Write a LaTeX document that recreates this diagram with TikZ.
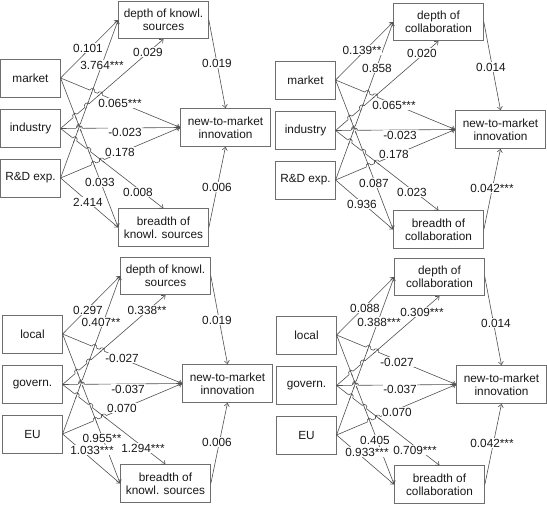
\documentclass[tikz,border=0pt]{standalone}
\usepackage{fontspec}
\setmainfont{Liberation Sans}
\usetikzlibrary{arrows.meta,calc}
\definecolor{boxgray}{RGB}{110,110,110}
\definecolor{linegray}{RGB}{80,80,80}
\definecolor{textc}{RGB}{25,25,25}
% #1,#2: line that is crossed; #3,#4: line that jumps over it
\newcommand\hop[4]{%
  \coordinate (X) at (intersection of #1--#2 and #3--#4);
  \coordinate (HA) at ($(X)!2.6pt!(#3)$);
  \coordinate (HB) at ($(X)!2.6pt!(#4)$);
  \draw[white, line width=1.8pt] (HA) -- (HB);
  \draw[hopline] ($(X)!3.6pt!(#1)$) -- ($(X)!3.6pt!(#2)$);
  \draw[hopline] (HA) .. controls ($(HA)!3.4pt!90:(HB)$) and ($(HB)!3.4pt!-90:(HA)$) .. (HB);
}
\newcommand\panelbase[5]{%
  \node[lbox] (a) at (30.5,78) {#1};
  \node[lbox] (b) at (30.5,128.5) {#2};
  \node[lbox] (c) at (30.5,178) {#3};
  \node[rbox] (d) at (163.5,20) {#4};
  \node[rbox] (e) at (163.5,227.5) {#5};
  \node[nbox] (n) at (225.5,127.5) {new-to-market\\innovation};
  \draw[conn] (a.east) -- (d.west);
  \draw[conn] (c.east) -- (d.west);
  \draw[conn] (b.east) -- (d.south);
  \draw[conn] (a.east) -- (n.west);
  \draw[conn] (b.east) -- (n.west);
  \draw[conn] (c.east) -- (n.west);
  \draw[conn] (a.east) -- (e.west);
  \draw[conn] (b.east) -- (e.north);
  \draw[conn] (c.east) -- (e.west);
  \draw[conn] (d.east) -- (n.north);
  \draw[conn] (e.east) -- (n.south);
  \hop{c.east}{d.west}{a.east}{n.west}
  \hop{b.east}{d.south}{a.east}{n.west}
  \hop{a.east}{e.west}{b.east}{d.south}
  \hop{a.east}{e.west}{b.east}{n.west}
  \hop{a.east}{e.west}{b.east}{e.north}
  \hop{a.east}{e.west}{c.east}{d.west}
  \hop{a.east}{e.west}{c.east}{n.west}
  \hop{c.east}{d.west}{b.east}{d.south}
  \hop{c.east}{d.west}{b.east}{n.west}
  \hop{c.east}{d.west}{b.east}{e.north}
  \hop{b.east}{e.north}{c.east}{n.west}
}
\begin{document}
\begin{tikzpicture}[x=1pt,y=-1pt,
  base/.style={draw=boxgray, line width=0.7pt, fill=white, inner sep=0pt,
    align=center, text=textc, font=\fontsize{11.8}{13.2}\selectfont},
  lbox/.style={base, minimum width=59.5pt, minimum height=38pt},
  rbox/.style={base, minimum width=90pt, minimum height=37.5pt},
  nbox/.style={base, minimum width=90pt, minimum height=38pt},
  hopline/.style={draw=linegray, line width=0.6pt},
  conn/.style={hopline, -{Straight Barb[length=3pt,width=5pt]}},
  lab/.style={fill=white, inner sep=0.6pt, text=textc,
    font=\fontsize{11.8}{13.2}\selectfont}]
\useasboundingbox (0,0) rectangle (547,505);
% panel 1
\begin{scope}[name prefix=p1-]
  \panelbase{market}{industry}{R\&D exp.}{depth of knowl.\\sources}{breadth of\\knowl. sources}
  \node[lab] at (88,48) {0.101};
  \node[lab] at (102,65) {3.764***};
  \node[lab] at (148,52) {0.029};
  \node[lab] at (120,103) {0.065***};
  \node[lab] at (125,132) {-0.023};
  \node[lab] at (120,152) {0.178};
  \node[lab] at (100,182) {0.033};
  \node[lab] at (138,192) {0.008};
  \node[lab] at (88,202) {2.414};
  \node[lab] at (217,63) {0.019};
  \node[lab] at (217,187) {0.006};
\end{scope}
% panel 2
\begin{scope}[shift={(275,2)}, name prefix=p2-]
  \panelbase{market}{industry}{R\&D exp.}{depth of\\collaboration}{breadth of\\collaboration}
  \node[lab] at (87,48) {0.139**};
  \node[lab] at (102,66) {0.858};
  \node[lab] at (147,51) {0.020};
  \node[lab] at (119,103) {0.065***};
  \node[lab] at (125,133) {-0.023};
  \node[lab] at (119,152) {0.178};
  \node[lab] at (99,181) {0.087};
  \node[lab] at (137,190) {0.023};
  \node[lab] at (87,202) {0.936};
  \node[lab] at (216,65) {0.014};
  \node[lab] at (217,186) {0.042***};
\end{scope}
% panel 3
\begin{scope}[shift={(2,256)}, name prefix=p3-]
  \panelbase{local}{govern.}{EU}{depth of knowl.\\sources}{breadth of\\knowl. sources}
  \node[lab] at (86,54) {0.297};
  \node[lab] at (99,66) {0.407**};
  \node[lab] at (145,54) {0.338**};
  \node[lab] at (120,102) {-0.027};
  \node[lab] at (126,133) {-0.037};
  \node[lab] at (120,152) {0.070};
  \node[lab] at (100,182) {0.955**};
  \node[lab] at (141,192) {1.294***};
  \node[lab] at (90,194) {1.033***};
  \node[lab] at (215,64) {0.019};
  \node[lab] at (215,186) {0.006};
\end{scope}
% panel 4
\begin{scope}[shift={(276,257)}, name prefix=p4-]
  \panelbase{local}{govern.}{EU}{depth of\\collaboration}{breadth of\\collaboration}
  \node[lab] at (89,51) {0.088};
  \node[lab] at (103,65) {0.388***};
  \node[lab] at (146,55) {0.309***};
  \node[lab] at (121,105) {-0.027};
  \node[lab] at (124,132) {-0.037};
  \node[lab] at (121,155) {0.070};
  \node[lab] at (99,183) {0.405};
  \node[lab] at (139,193) {0.709***};
  \node[lab] at (91,195) {0.933***};
  \node[lab] at (220,66) {0.014};
  \node[lab] at (216,186) {0.042***};
\end{scope}
\end{tikzpicture}
\end{document}
